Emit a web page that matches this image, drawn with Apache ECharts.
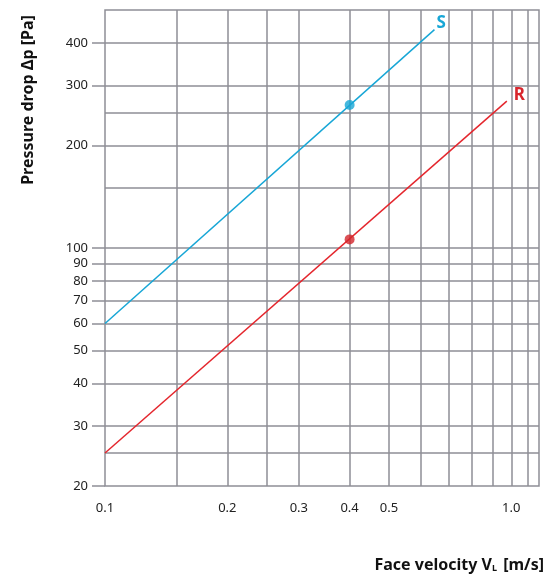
<!DOCTYPE html>
<html>
<head>
<meta charset="utf-8">
<script src="https://cdn.jsdelivr.net/npm/echarts@6/dist/echarts.min.js"></script>
<style>
html,body{margin:0;padding:0;background:#fff;}
#chart{width:558px;height:575px;}
</style>
</head>
<body>
<div id="chart"></div>
<script>
// ---- data ----
const seriesSLine = [[0.1, 60], [0.647, 438]];
const seriesSPoint = [[0.4, 263]];
const seriesRLine = [[0.1, 25], [0.975, 270]];
const seriesRPoint = [[0.4, 106]];

const xTickValues = [0.1, 0.2, 0.3, 0.4, 0.5, 1.0];
const xTickLabels = ['0.1', '0.2', '0.3', '0.4', '0.5', '1.0'];
const yTickValues = [20, 30, 40, 50, 60, 70, 80, 90, 100, 200, 300, 400];

const xGridValues = [0.15, 0.2, 0.25, 0.3, 0.4, 0.5, 0.6, 0.7, 0.8, 0.9, 1.0, 1.1];
const yGridValues = [25, 30, 40, 50, 60, 70, 80, 90, 100, 150, 200, 250, 300, 400];

const xRange = [0.1, 1.17];
const yRange = [20, 500];

// ---- styles ----
const gridColor = '#8e8e96';
const blue = '#17a6d6';
const red = '#e4262d';
const font = '"Noto Sans", "Open Sans", sans-serif';

const chart = echarts.init(document.getElementById('chart'), null, {renderer: 'canvas'});

const gridMarks = xGridValues.map(v => ({xAxis: v})).concat(yGridValues.map(v => ({yAxis: v})));

chart.setOption({
  animation: false,
  backgroundColor: '#fff',
  grid: {
    left: 105, top: 10, right: 19, bottom: 89,
    show: true, borderColor: gridColor, borderWidth: 1.5, backgroundColor: 'transparent'
  },
  xAxis: {
    type: 'log', logBase: 10, min: xRange[0], max: xRange[1],
    axisLine: {show: false},
    axisTick: {show: false},
    splitLine: {show: false},
    minorSplitLine: {show: false},
    axisLabel: {
      customValues: xTickValues,
      margin: 16, fontSize: 13, color: '#222', fontFamily: font,
      formatter: v => {
        const i = xTickValues.findIndex(t => Math.abs(t - v) < 1e-6);
        return i >= 0 ? xTickLabels[i] : '';
      }
    }
  },
  yAxis: {
    type: 'log', logBase: 10, min: yRange[0], max: yRange[1],
    axisLine: {show: false},
    axisTick: {show: true, customValues: yTickValues, length: 13, lineStyle: {color: gridColor, width: 1.5}},
    splitLine: {show: false},
    axisLabel: {
      customValues: yTickValues,
      margin: 17, fontSize: 13, color: '#222', fontFamily: font,
      formatter: v => String(Math.round(v))
    }
  },
  series: [
    {
      type: 'line', data: [], z: 1, silent: true,
      markLine: {
        silent: true, symbol: 'none', animation: false,
        label: {show: false},
        lineStyle: {color: gridColor, width: 1.5, type: 'solid'},
        data: gridMarks
      }
    },
    {
      type: 'line', data: seriesSLine, z: 5, showSymbol: false, silent: true,
      lineStyle: {color: blue, width: 1.5},
      endLabel: {show: true, formatter: 'S', color: blue, fontWeight: 'bold', fontSize: 17, fontFamily: font, distance: 2, offset: [0, -6]}
    },
    {
      type: 'scatter', data: seriesSPoint, z: 6, symbolSize: 10, silent: true,
      itemStyle: {color: blue}
    },
    {
      type: 'line', data: seriesRLine, z: 5, showSymbol: false, silent: true,
      lineStyle: {color: red, width: 1.5},
      endLabel: {show: true, formatter: 'R', color: '#d8262d', fontWeight: 'bold', fontSize: 17, fontFamily: font, distance: 7, offset: [0, -6]}
    },
    {
      type: 'scatter', data: seriesRPoint, z: 6, symbolSize: 10, silent: true,
      itemStyle: {color: '#d2252c'}
    }
  ],
  graphic: [
    {
      type: 'text', x: 28, y: 100, rotation: Math.PI / 2,
      style: {
        text: 'Pressure drop Δp [Pa]', fill: '#111',
        font: 'bold 16px ' + font, align: 'center', verticalAlign: 'middle'
      }
    },
    {
      type: 'text', x: 544, y: 560,
      style: {
        text: '{a|Face velocity V}{s|L}{a| [m/s]}', fill: '#111',
        align: 'right', verticalAlign: 'middle',
        rich: {
          a: {fontSize: 16, fontWeight: 'bold', fontFamily: font, lineHeight: 26, verticalAlign: 'bottom', fill: '#111'},
          s: {fontSize: 9, fontWeight: 'bold', fontFamily: font, lineHeight: 6, padding: [0, 2, 0, 0], verticalAlign: 'bottom', fill: '#111'}
        }
      }
    }
  ]
});
</script>
</body>
</html>
